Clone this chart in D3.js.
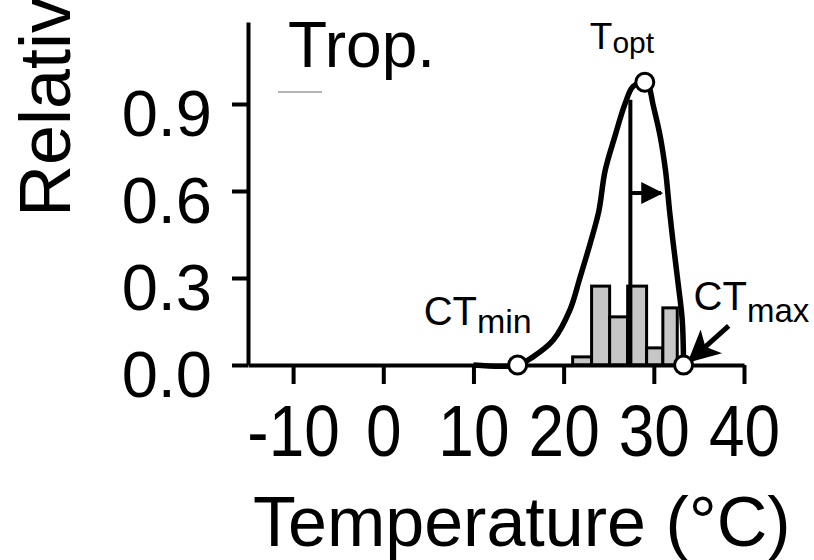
<!DOCTYPE html>
<html>
<head>
<meta charset="utf-8">
<script src="https://cdn.jsdelivr.net/npm/d3@7"></script>
<style>
  html, body { margin: 0; padding: 0; background: #fff; }
  svg { display: block; }
  text { font-family: "Liberation Sans", Arial, Helvetica, sans-serif; fill: #000; }
</style>
</head>
<body>
<svg id="chart" width="814" height="560"></svg>
<script>
// ---------- data ----------
const xTicks = [-10, 0, 10, 20, 30, 40];
const xTickLabels = ["-10", "0", "10", "20", "30", "40"];
const yTicks = [0.0, 0.3, 0.6, 0.9];
const yTickLabels = ["0.0", "0.3", "0.6", "0.9"];

// thermal performance curve (temperature, relative performance)
const curveTemp = [10, 14.9, 16.6, 18.85, 20.7, 21.8, 22.95, 23.9, 24.6, 25.7, 26.8, 27.7, 29.0, 29.5, 29.9, 30.7, 31.3, 31.75, 32.15, 32.7, 33.15, 33.3];
const curvePerf = [0, 0, 0.028, 0.086, 0.19, 0.30, 0.42, 0.53, 0.67, 0.79, 0.90, 0.96, 0.975, 0.955, 0.90, 0.79, 0.67, 0.53, 0.42, 0.28, 0.155, 0];

// histogram of temperatures
const binEdges = [21, 23.1, 25.1, 27.1, 29.2, 31.0, 32.6];
const binValues = [0.028, 0.272, 0.166, 0.272, 0.059, 0.197];

// key points
const ctMin = [14.9, 0];
const tOpt = [29.0, 0.975];
const ctMax = [33.3, 0];
const meanTemp = 27.4, meanTop = 0.915;
const shiftArrow = { from: 27.4, to: 30.8, y: 0.593 };
const ctMaxArrow = { x1: 38.3, y1: 0.135, x2: 34.0, y2: 0.015 };

// ---------- drawing ----------
const svg = d3.select("#chart");
const x = d3.scaleLinear().domain([-15, 40]).range([248, 744]);
const y = d3.scaleLinear().domain([0, 0.9]).range([365, 104]);
const yTop = y.invert(22);
const FONT = '"Liberation Sans", Arial, sans-serif';

const defs = svg.append("defs");
defs.append("marker").attr("id", "ah").attr("markerUnits", "userSpaceOnUse")
  .attr("viewBox", "0 0 10 10").attr("refX", 9).attr("refY", 5)
  .attr("markerWidth", 22).attr("markerHeight", 22).attr("orient", "auto")
  .append("path").attr("d", "M0,0 L10,5 L0,10 Z").attr("fill", "#000");
defs.append("marker").attr("id", "ah2").attr("markerUnits", "userSpaceOnUse")
  .attr("viewBox", "0 0 10 10").attr("refX", 9).attr("refY", 5)
  .attr("markerWidth", 34).attr("markerHeight", 32).attr("orient", "auto")
  .append("path").attr("d", "M0,0 L10,5 L0,10 L2.5,5 Z").attr("fill", "#000");

// histogram bars
const bins = binValues.map((v, i) => ({ x0: binEdges[i], x1: binEdges[i + 1], v }));
svg.append("g").selectAll("rect").data(bins).join("rect")
  .attr("x", d => x(d.x0)).attr("width", d => x(d.x1) - x(d.x0))
  .attr("y", d => y(d.v)).attr("height", d => y(0) - y(d.v))
  .attr("fill", "#c6c6c6").attr("stroke", "#000").attr("stroke-width", 3);

// axes
const xAxis = d3.axisBottom(x).tickValues(xTicks).tickSize(19).tickSizeOuter(0)
  .tickFormat((d, i) => xTickLabels[i]);
const gx = svg.append("g").attr("transform", `translate(0,${y(0)})`).call(xAxis);
gx.select(".domain").attr("stroke-width", 4);
gx.selectAll(".tick line").attr("stroke-width", 4);
gx.selectAll(".tick text").attr("font-size", 64).attr("dy", null).attr("y", 0)
  .attr("transform", "translate(0,91) scale(1,1.12)")
  .style("font-family", FONT).attr("fill", "#000");

const yScaleAxis = y.copy().domain([0, yTop]).range([y(0), y(yTop)]);
const yAxis = d3.axisLeft(yScaleAxis).tickValues(yTicks).tickSize(16).tickSizeOuter(0)
  .tickFormat((d, i) => yTickLabels[i]);
const gy = svg.append("g").attr("transform", `translate(${x(-15)},0)`).call(yAxis);
gy.select(".domain").attr("stroke-width", 4);
gy.selectAll(".tick line").attr("stroke-width", 4);
gy.selectAll(".tick text").attr("font-size", 65).attr("dy", null).attr("y", 31).attr("x", -36)
  .style("font-family", FONT).attr("fill", "#000");

// performance curve
const pts = curveTemp.map((t, i) => [t, curvePerf[i]]);
svg.append("path").datum(pts)
  .attr("d", d3.line().x(d => x(d[0])).y(d => y(d[1])).curve(d3.curveCatmullRom.alpha(0.5)))
  .attr("fill", "none").attr("stroke", "#000").attr("stroke-width", 5.5).attr("stroke-linejoin", "round");

// mean temperature line and shift arrow
svg.append("line").attr("x1", x(meanTemp)).attr("x2", x(meanTemp))
  .attr("y1", y(meanTop)).attr("y2", y(0)).attr("stroke", "#000").attr("stroke-width", 4);
svg.append("line").attr("x1", x(shiftArrow.from)).attr("x2", x(shiftArrow.to))
  .attr("y1", y(shiftArrow.y)).attr("y2", y(shiftArrow.y))
  .attr("stroke", "#000").attr("stroke-width", 4).attr("marker-end", "url(#ah)");

// CTmax arrow
svg.append("line").attr("x1", x(ctMaxArrow.x1)).attr("y1", y(ctMaxArrow.y1))
  .attr("x2", x(ctMaxArrow.x2)).attr("y2", y(ctMaxArrow.y2))
  .attr("stroke", "#000").attr("stroke-width", 5).attr("marker-end", "url(#ah2)");

// key point circles
svg.append("g").selectAll("circle").data([ctMin, tOpt, ctMax]).join("circle")
  .attr("cx", d => x(d[0])).attr("cy", d => y(d[1])).attr("r", 9)
  .attr("fill", "#fff").attr("stroke", "#000").attr("stroke-width", 3);

// labels
function subLabel(xp, yp, main, sub, fsMain, fsSub, subDy) {
  const t = svg.append("text").attr("x", xp).attr("y", yp).attr("font-size", fsMain);
  t.append("tspan").text(main);
  t.append("tspan").attr("font-size", fsSub).attr("dy", subDy).text(sub);
}
subLabel(x(tOpt[0]) - 55, 49, "T", "opt", 37, 30, 4);
subLabel(x(ctMin[0]) - 94, 325, "CT", "min", 40, 34, 8);
subLabel(x(ctMax[0]) + 10, 310, "CT", "max", 40, 33, 12);

svg.append("text").attr("x", 288).attr("y", 67).attr("font-size", 64).text("Trop.");

svg.append("text").attr("x", 253).attr("y", 546).attr("font-size", 70).text("Temperature (\u00B0C)");

svg.append("text").attr("transform", "translate(70,217) rotate(-90)")
  .attr("font-size", 72).text("Relative performance");

// faint stray line in the original figure
svg.append("line").attr("x1", 278).attr("x2", 322).attr("y1", 92).attr("y2", 92)
  .attr("stroke", "#9a9a9a").attr("stroke-width", 1.5);
</script>
</body>
</html>
